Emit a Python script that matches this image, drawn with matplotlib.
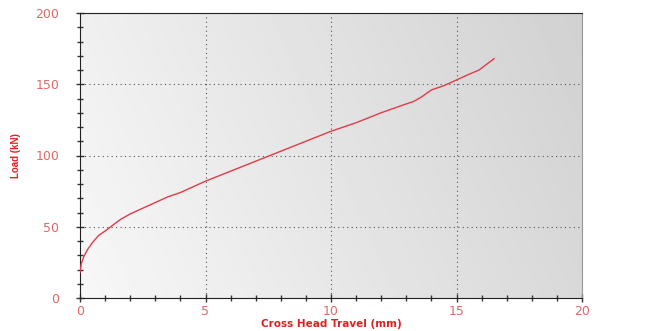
import matplotlib.pyplot as plt
import numpy as np

# load vs cross head travel
travel = [0.0, 0.05, 0.15, 0.3, 0.5, 0.75, 1.0, 1.3, 1.6, 2.0, 2.5, 3.0, 3.5, 4.0,
          4.5, 5.0, 6.0, 7.0, 8.0, 9.0, 10.0, 11.0, 12.0, 12.8, 13.3, 13.6,
          14.0, 14.5, 15.0, 15.5, 15.9, 16.2, 16.5]
load = [18, 24, 29, 34, 39, 44, 47, 51, 55, 59, 63, 67, 71, 74,
        78, 82, 89, 96, 103, 110, 117, 123, 130, 135, 138, 141,
        146, 149, 153, 157, 160, 164, 168]

xticks = [0, 5, 10, 15, 20]
yticks = [0, 50, 100, 150, 200]

fig = plt.figure(figsize=(6.59, 3.31), dpi=100)
ax = fig.add_axes([80/659, 1 - 298/331, 502/659, 285/331])

# light grey gradient background
gx = np.linspace(0, 1, 200)
gy = np.linspace(0, 1, 100)
GX, GY = np.meshgrid(gx, gy)
grad = 0.97 - 0.12 * GX - 0.03 * (1 - GY)
ax.imshow(grad, cmap='gray', vmin=0, vmax=1, aspect='auto',
          extent=[0, 20, 0, 200], origin='upper', zorder=0)

ax.plot(travel, load, color='#e23a48', linewidth=1.0, zorder=3)

ax.set_xlim(0, 20)
ax.set_ylim(0, 200)
ax.set_xticks(xticks)
ax.set_yticks(yticks)
ax.set_xticks(np.arange(0, 21, 1), minor=True)
ax.set_yticks(np.arange(0, 201, 10), minor=True)
ax.tick_params(which='both', direction='inout', colors='#333333',
               labelcolor='#e06868', labelsize=9)
ax.tick_params(which='major', length=6, width=1)
ax.tick_params(which='minor', length=5, width=1)
ax.tick_params(axis='y', which='major', pad=12)
ax.tick_params(axis='x', which='major', pad=2)
ax.grid(which='major', linestyle=(0, (1, 3)), color='#555555', linewidth=0.8)

for s in ['left', 'bottom', 'top']:
    ax.spines[s].set_color('#222222')
ax.spines['right'].set_color('#999999')

ax.set_xlabel('Cross Head Travel (mm)', color='#e02020', fontsize=7.5,
              fontweight='bold')
ax.xaxis.set_label_coords(0.5, -26/285, transform=ax.transAxes)
ax.xaxis.label.set_va('center')
ax.set_ylabel('Load (kN)', color='#e02020', fontsize=7, family='Liberation Sans',
              fontweight='bold', labelpad=10)

plt.savefig('out.png', dpi=100)
